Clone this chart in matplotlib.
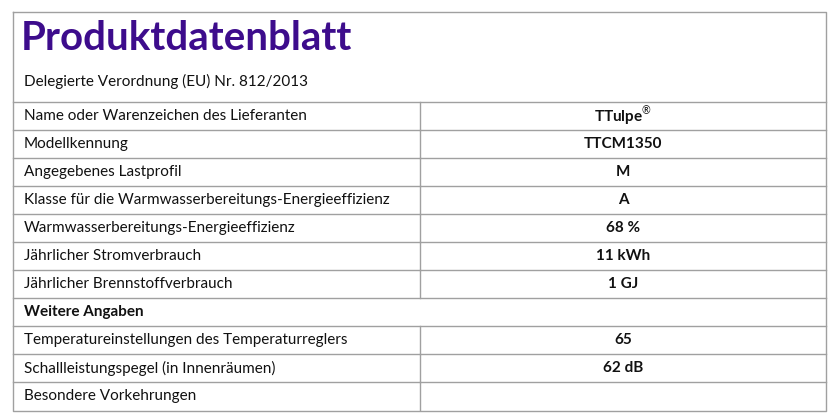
import matplotlib
matplotlib.use("Agg")
import matplotlib.pyplot as plt

title = "Produktdatenblatt"
subtitle = "Delegierte Verordnung (EU) Nr. 812/2013"
labels = ["Name oder Warenzeichen des Lieferanten", "Modellkennung", "Angegebenes Lastprofil",
          "Klasse für die Warmwasserbereitungs-Energieeffizienz", "Warmwasserbereitungs-Energieeffizienz",
          "Jährlicher Stromverbrauch", "Jährlicher Brennstoffverbrauch", "Weitere Angaben",
          "Temperatureinstellungen des Temperaturreglers", "Schallleistungspegel (in Innenräumen)",
          "Besondere Vorkehrungen"]
values = ["TTulpe$^{®}$", "TTCM1350", "M", "A", "68 %", "11 kWh", "1 GJ", None, "65", "62 dB", ""]

plt.rcParams['font.family'] = ['Lato', 'DejaVu Sans']
plt.rcParams['mathtext.fontset'] = 'custom'
plt.rcParams['mathtext.rm'] = 'Lato'
plt.rcParams['mathtext.bf'] = 'Lato:bold'
fig = plt.figure(figsize=(8.32, 4.18), dpi=100)
ax = fig.add_axes([0, 0, 1, 1])
ax.set_xlim(0, 832); ax.set_ylim(418, 0); ax.axis('off')

L, R, T, B, X = 13, 826, 12, 411, 420
lc = '#a0a0a0'
ax.plot([L, R, R, L, L], [T, T, B, B, T], color=lc, lw=1)
ax.text(21, 39, title, fontsize=29, fontweight='bold', color='#3d0c8c', va='center')
ax.text(24, 81, subtitle, fontsize=11, va='center', color='#111')
y0, h = 102, 28
ax.plot([L, R], [y0, y0], color=lc, lw=1)
for i, (lab, val) in enumerate(zip(labels, values)):
    top = y0 + i * h
    bot = top + h
    if i < len(labels) - 1:
        ax.plot([L, R], [bot, bot], color=lc, lw=1)
    cy = top + h / 2
    if val is None:
        ax.text(24, cy, lab, fontsize=11, fontweight='bold', va='center', color='#111')
    else:
        ax.plot([X, X], [top, bot], color=lc, lw=1)
        ax.text(24, cy, lab, fontsize=11, va='center', color='#111')
        ax.text(623, cy, val, fontsize=11, fontweight='bold', va='center', ha='center', color='#111')
fig.savefig("out.png", dpi=100)
